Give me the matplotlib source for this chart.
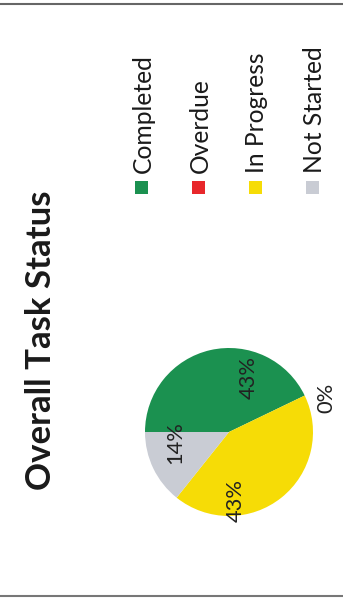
import matplotlib
matplotlib.use('Agg')
import matplotlib.pyplot as plt

categories = ['Completed', 'Overdue', 'In Progress', 'Not Started']
counts = [3, 0, 3, 1]
colors = ['#1b9150', '#e8272b', '#f6dc06', '#c9ccd4']
title = 'Overall Task Status'

FONT = 'Lato'
W, H = 343, 598
fig = plt.figure(figsize=(W / 100, H / 100), dpi=100)
fig.patch.set_facecolor('white')

ov = fig.add_axes([0, 0, 1, 1])
ov.set_xlim(0, W)
ov.set_ylim(H, 0)
ov.axis('off')

cx, cy, r = 229, 432, 84
pax = fig.add_axes([(cx - r) / W, 1 - (cy + r) / H, 2 * r / W, 2 * r / H])
wedges, texts, autotexts = pax.pie(
    counts, colors=colors, startangle=180, counterclock=False, radius=1,
    autopct='%.0f%%', pctdistance=0.65,
    textprops=dict(rotation=90, family=FONT, fontsize=15, color='#222222',
                   ha='center', va='center'))
pax.set_xlim(-1, 1)
pax.set_ylim(-1, 1)
pax.set_aspect('auto')
pax.axis('off')

label_xy = [(0.238, 0.643), (1.155, 0.405), (0.083, -0.81), (-0.643, -0.12)]
for t, p in zip(autotexts, label_xy):
    t.set_position(p)
    t.set_clip_on(False)

# title
tt = ov.text(41, 340, title, rotation=90, ha='center', va='center',
             family=FONT, fontweight='bold', fontsize=22, color='#1a1a1a')

# legend
leg_x0, leg_dx = 141, 57
ov.scatter([leg_x0 + i * leg_dx for i in range(len(categories))],
           [187] * len(categories), marker='s', s=(13 * 0.72) ** 2,
           c=colors, linewidths=0)
leg_texts = []
for i, cat in enumerate(categories):
    leg_texts.append(ov.text(leg_x0 + i * leg_dx + 2, 173, cat, rotation=90,
                             ha='center', va='bottom', family=FONT,
                             fontsize=14, color='#1a1a1a'))

# borders
ov.plot([0, W], [4, 4], color='#666666', lw=1.5)
ov.plot([0, W], [596, 596], color='#777777', lw=1.5)


def fit(objs, ref, target):
    for _ in range(3):
        fig.canvas.draw()
        rnd = fig.canvas.get_renderer()
        h = ref.get_window_extent(rnd).height
        f = ref.get_fontsize() * target / h
        for o in objs:
            o.set_fontsize(f)


fit([tt], tt, 300)
fit(leg_texts, leg_texts[0], 119)
fit(list(autotexts), autotexts[0], 43)

fig.savefig('out.png', dpi=100, facecolor='white')
